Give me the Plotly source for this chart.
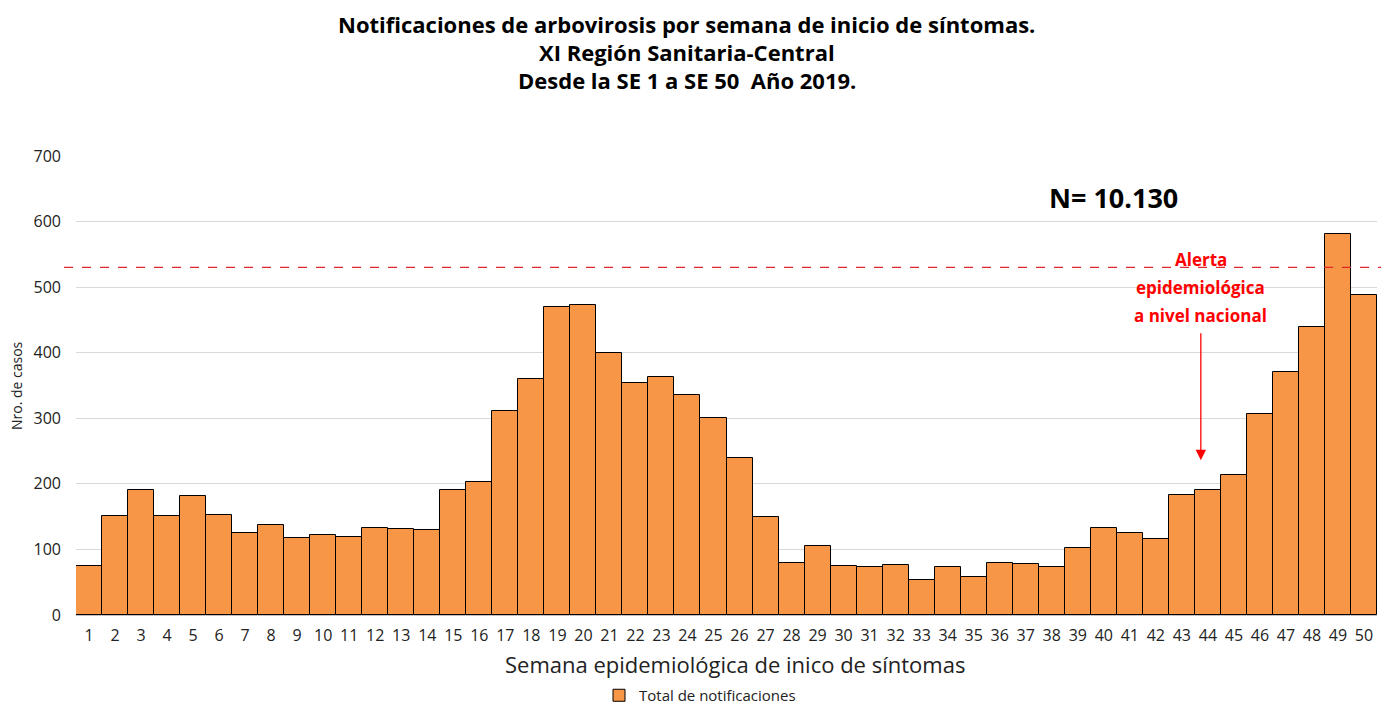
import plotly.graph_objects as go

semanas = list(range(1, 51))
notificaciones = [74, 151, 190, 151, 181, 152, 125, 137, 117, 122,
                  119, 133, 131, 130, 190, 203, 311, 360, 470, 473,
                  400, 354, 363, 336, 300, 239, 149, 79, 105, 75,
                  73, 76, 53, 73, 58, 79, 78, 73, 102, 133,
                  125, 116, 183, 191, 214, 307, 371, 439, 581, 488]
umbral_alerta = 530
y_ticks = [0, 100, 200, 300, 400, 500, 600, 700]
titulo = ["Notificaciones de arbovirosis por semana de inicio de síntomas.",
          "XI Región Sanitaria-Central",
          "Desde la SE 1 a SE 50  Año 2019."]
alerta = ["Alerta", "epidemiológica", "a nivel nacional"]

FONT = "Open Sans"

# page has an 8px body margin: figure is sized/positioned to compensate
W, H = 1381, 704
ML, MT, MR, MB = 68, 148, 12, 97
PH = H - MT - MB  # plot height (459)


def py2paper(page_y):
    fy = page_y - 8
    return (H - MB - fy) / PH


fig = go.Figure()
fig.add_trace(go.Bar(
    x=semanas, y=notificaciones, name="Total de notificaciones",
    marker=dict(color="#F79646", line=dict(color="black", width=1)),
    width=1.0, showlegend=True,
))

fig.add_shape(type="line", xref="paper", yref="y", x0=-0.0092, x1=1.006,
              y0=umbral_alerta, y1=umbral_alerta,
              line=dict(color="#E0282E", width=1.2, dash="dash"))

# title lines
for line, yp in zip(titulo, [24, 52, 80]):
    fig.add_annotation(x=0.4695, y=py2paper(yp), xref="paper", yref="paper",
                       showarrow=False, text=line, xanchor="center", yanchor="middle",
                       font=dict(family=FONT, size=22, color="black", weight="bold"))

# alert arrow and text
fig.add_annotation(x=43.73, y=236, ax=43.73, ay=432, xref="x", yref="y",
                   axref="x", ayref="y", showarrow=True, arrowhead=2,
                   arrowsize=1.6, arrowwidth=1.3, arrowcolor="red", text="")
for line, yv in zip(alerta, [542.9, 500.2, 457.5]):
    fig.add_annotation(x=43.73, y=yv, xref="x", yref="y", showarrow=False,
                       text=line, xanchor="center", yanchor="middle",
                       font=dict(family=FONT, size=17, color="red", weight="bold"))
fig.add_annotation(x=40.39, y=636, xref="x", yref="y", showarrow=False,
                   text="N= 10.130", xanchor="center", yanchor="middle",
                   font=dict(family=FONT, size=27, color="black", weight="bold"))

fig.add_annotation(x=0.5065, y=py2paper(664), xref="paper", yref="paper", showarrow=False,
                   text="Semana epidemiológica de inico de síntomas",
                   font=dict(family=FONT, size=22, color="#222"), yanchor="middle")
fig.add_annotation(x=-0.0453, y=0.499, xref="paper", yref="paper", showarrow=False,
                   text="Nro. de casos", textangle=-90,
                   font=dict(family=FONT, size=14, color="#222"),
                   xanchor="center", yanchor="middle")

fig.update_layout(
    width=W, height=H,
    margin=dict(l=ML, r=MR, t=MT, b=MB, autoexpand=False),
    paper_bgcolor="white", plot_bgcolor="white",
    bargap=0,
    font=dict(family=FONT, size=16, color="#222"),
    legend=dict(orientation="h", xref="container", x=(700 - 8) / W, xanchor="center",
                yref="container", y=-0.007, yanchor="bottom",
                font=dict(family=FONT, size=15, color="#222"),
                itemwidth=30),
    xaxis=dict(range=[0.5, 50.5], tickmode="array", tickvals=semanas,
               ticktext=[str(s) for s in semanas], showgrid=False,
               showline=True, linecolor="#BFBFBF", linewidth=1, ticks="",
               tickfont=dict(size=16), ticklabelstandoff=6, automargin=False),
    yaxis=dict(range=[0, 700], tickmode="array", tickvals=y_ticks,
               showgrid=True, gridcolor="#D9D9D9", gridwidth=1, zeroline=False,
               showline=False, ticks="", tickfont=dict(size=16),
               ticklabelstandoff=14, automargin=False),
)

fig.write_html("out.html")
